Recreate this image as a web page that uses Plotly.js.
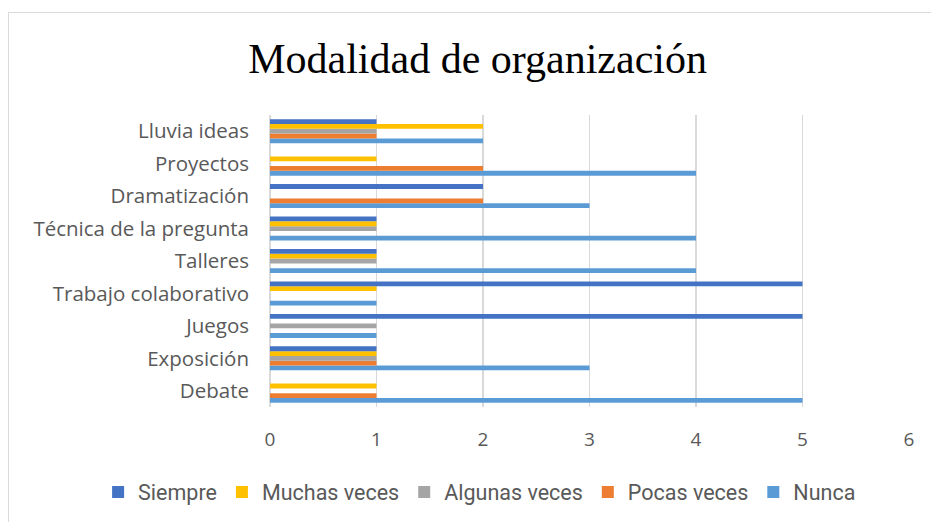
<!DOCTYPE html>
<html>
<head>
<meta charset="utf-8">
<script src="https://cdn.plot.ly/plotly-3.0.1.min.js"></script>
<style>
html,body{margin:0;padding:0;background:#fff;}
#wrap{position:absolute;left:0;top:0;width:931px;height:522px;}
#frame{position:absolute;left:8px;top:12px;width:940px;height:530px;border-left:1.5px solid #D9D9D9;border-top:1.5px solid #D9D9D9;pointer-events:none;}
#chart{position:absolute;left:0;top:0;width:931px;height:522px;}
</style>
</head>
<body>
<div id="wrap"><div id="chart"></div><div id="frame"></div></div>
<script>
var categories = ["Debate","Exposición","Juegos","Trabajo colaborativo","Talleres","Técnica de la pregunta","Dramatización","Proyectos","Lluvia ideas"];
var seriesNames = ["Siempre","Muchas veces","Algunas veces","Pocas veces","Nunca"];
var siempre  = [0,1,5,5,1,1,2,0,1];
var muchas   = [1,1,0,1,1,1,0,1,2];
var algunas  = [0,1,1,0,1,1,0,0,1];
var pocas    = [1,1,0,0,0,0,2,2,1];
var nunca    = [5,3,1,1,4,4,3,4,2];
var xTicks = [0,1,2,3,4,5,6];

var colors = ["#4472C4","#FFC000","#A5A5A5","#ED7D31","#5B9BD5"];
var values = [siempre, muchas, algunas, pocas, nunca];

var traces = [];
// Plotly draws the first trace at the bottom of each group; the reference has Nunca at the bottom
for (var i = values.length - 1; i >= 0; i--) {
  traces.push({
    type: "bar",
    orientation: "h",
    name: seriesNames[i],
    y: categories,
    x: values[i],
    marker: {color: colors[i]},
    hoverinfo: "x+y+name"
  });
}

var layout = {
  width: 931,
  height: 522,
  margin: {l: 270, r: 22, t: 115, b: 115, autoexpand: false},
  paper_bgcolor: "rgba(0,0,0,0)",
  plot_bgcolor: "#fff",
  barmode: "group",
  bargap: 0.26,
  bargroupgap: 0,
  showlegend: true,
  title: {
    text: "Modalidad de organización",
    font: {family: "Liberation Serif, Times New Roman, serif", size: 42, color: "#000"},
    x: 0.513, xref: "container", xanchor: "center",
    y: 0.888, yref: "container", yanchor: "middle"
  },
  xaxis: {
    range: [0, 6],
    tickvals: xTicks,
    ticktext: xTicks.map(String),
    showgrid: true,
    gridcolor: "#D9D9D9",
    gridwidth: 1.5,
    zeroline: true,
    zerolinecolor: "#D9D9D9",
    zerolinewidth: 1.5,
    showline: false,
    ticks: "",
    ticklabelstandoff: 19,
    tickfont: {family: "Open Sans, Liberation Sans, sans-serif", size: 19, color: "#595959"},
    fixedrange: true
  },
  yaxis: {
    type: "category",
    categoryorder: "array",
    categoryarray: categories,
    showgrid: false,
    zeroline: false,
    showline: false,
    ticks: "",
    ticklabelstandoff: 20,
    tickfont: {family: "Open Sans, Liberation Sans, sans-serif", size: 20.5, color: "#595959"},
    fixedrange: true
  },
  legend: {
    orientation: "h",
    traceorder: "reversed",
    x: -0.269, xanchor: "left",
    y: -0.291, yanchor: "middle",
    font: {family: "Roboto, sans-serif", size: 21.5, color: "#595959"},
    itemwidth: 30,
    itemsizing: "constant"
  }
};

Plotly.newPlot("chart", traces, layout, {displayModeBar: false, staticPlot: true});
</script>
</body>
</html>
